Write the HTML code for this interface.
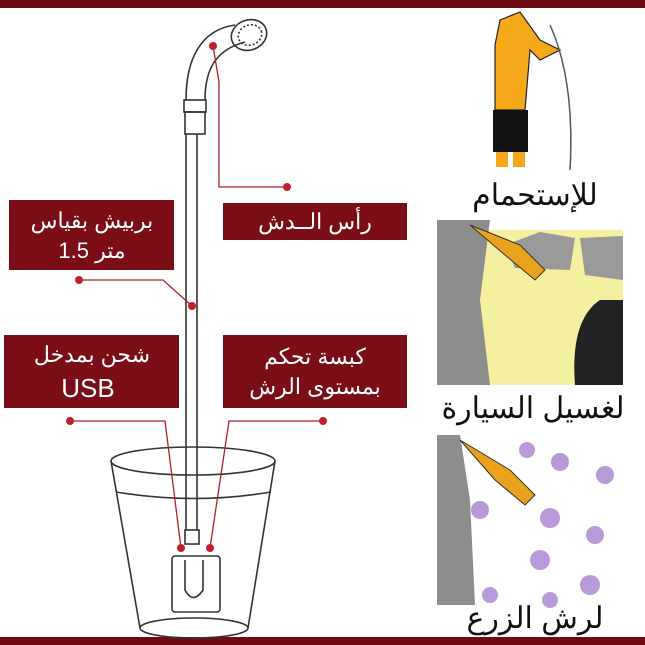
<!DOCTYPE html>
<html><head><meta charset="utf-8"><style>
html,body{margin:0;padding:0;background:#fff;}
svg{display:block}
text{font-family:"Liberation Sans","Noto Sans CJK SC",sans-serif;}
</style></head><body>
<svg width="645" height="645" viewBox="0 0 645 645" xmlns="http://www.w3.org/2000/svg">
<rect x="0" y="0" width="645" height="8" fill="#6e0a12"/>
<rect x="0" y="637" width="645" height="8" fill="#6e0a12"/>

<g fill="none" stroke="#333" stroke-width="1.6">
<path d="M186 134 L186 530 M197 134 L197 530"/>
<path d="M186 100 C186 60 200 30 235 25 M205 100 C205 70 215 50 245 42"/>
<ellipse cx="249" cy="35" rx="18" ry="15" transform="rotate(-20 249 35)"/>
<ellipse cx="250" cy="35" rx="12" ry="10" transform="rotate(-20 250 35)" stroke-dasharray="2 2"/>
<rect x="184" y="100" width="22" height="12"/><rect x="185" y="112" width="20" height="22"/>
<ellipse cx="193" cy="461" rx="82" ry="14"/>
<path d="M111 461 L140 628 M275 461 L248 628"/>
<ellipse cx="194" cy="628" rx="54" ry="10"/>
<path d="M116 492 Q193 505 271 492"/>
<rect x="185" y="530" width="14" height="14"/>
<rect x="172" y="556" width="48" height="56" rx="3"/>
<path d="M185 560 L185 590 Q193 605 203 590 L203 560"/>
</g>

<g stroke="#b01e2a" stroke-width="1.3" fill="none">
<path d="M287 187 L219 187 L219 82 L213 46"/>
<path d="M79 280 L163 280 L192 306"/>
<path d="M70 421 L165 421 L181 548"/>
<path d="M323 421 L229 421 L210 548"/>
</g>
<g fill="#c0202c">
<circle cx="287" cy="187" r="4"/><circle cx="213" cy="46" r="4"/>
<circle cx="79" cy="280" r="4"/><circle cx="192" cy="306" r="4"/>
<circle cx="70" cy="421" r="4"/><circle cx="323" cy="421" r="4"/>
<circle cx="181" cy="548" r="4"/><circle cx="210" cy="548" r="4"/>
</g>

<g fill="#7a0d15">
<rect x="9" y="200" width="165" height="70"/>
<rect x="223" y="203" width="184" height="37"/>
<rect x="4" y="335" width="175" height="73"/>
<rect x="223" y="335" width="184" height="73"/>
</g>
<g fill="#fff" font-size="22" text-anchor="middle">
<text x="92" y="228">بربيش بقياس</text>
<text x="92" y="258">1.5 متر</text>
<text x="315" y="229">رأس الــدش</text>
<text x="92" y="362">شحن بمدخل</text>
<text x="88" y="397" font-size="26">USB</text>
<text x="315" y="364">كبسة تحكم</text>
<text x="315" y="394">بمستوى الرش</text>
</g>

<g>
<path d="M500 20 L520 12 L540 40 L560 50 L540 60 L530 50 L525 110 L495 110 L495 45 Z" fill="#f4a81a" stroke="#222" stroke-width="1.2"/>
<rect x="493" y="110" width="35" height="42" fill="#111"/>
<rect x="496" y="152" width="12" height="15" fill="#f4a81a"/><rect x="513" y="152" width="12" height="15" fill="#f4a81a"/>
<path d="M550 25 Q575 80 570 170" stroke="#555" fill="none" stroke-width="1.5"/>
</g>
<text x="535" y="205" font-size="30" text-anchor="middle" fill="#111">للإستحمام</text>

<rect x="470" y="230" width="153" height="155" fill="#f5f0a0"/>
<path d="M505 245 L540 232 L575 238 L570 270 L515 268 Z" fill="#9a9a9a"/>
<path d="M580 238 L623 236 L623 280 L585 275 Z" fill="#9a9a9a"/>
<path d="M600 300 Q570 320 575 385 L623 385 L623 300 Z" fill="#222"/>
<path d="M437 220 L490 220 L480 300 L490 385 L437 385 Z" fill="#8d8d8d"/>
<path d="M470 225 L520 245 L545 270 L535 280 L505 255 Z" fill="#e8a21c" stroke="#333"/>
<text x="533" y="418" font-size="30" text-anchor="middle" fill="#111">لغسيل السيارة</text>

<path d="M437 435 L460 435 L470 500 L475 605 L437 605 Z" fill="#8d8d8d"/>
<path d="M460 440 L510 470 L535 495 L525 505 L495 480 Z" fill="#e8a21c" stroke="#333"/>
<g fill="#b99ad8">
<circle cx="527" cy="450" r="8"/><circle cx="560" cy="462" r="9"/><circle cx="605" cy="475" r="9"/>
<circle cx="480" cy="510" r="9"/><circle cx="550" cy="518" r="10"/><circle cx="595" cy="535" r="9"/>
<circle cx="540" cy="560" r="10"/><circle cx="590" cy="585" r="10"/><circle cx="490" cy="595" r="8"/><circle cx="550" cy="600" r="8"/>
</g>
<text x="535" y="628" font-size="30" text-anchor="middle" fill="#111">لرش الزرع</text>
</svg>
</body></html>
